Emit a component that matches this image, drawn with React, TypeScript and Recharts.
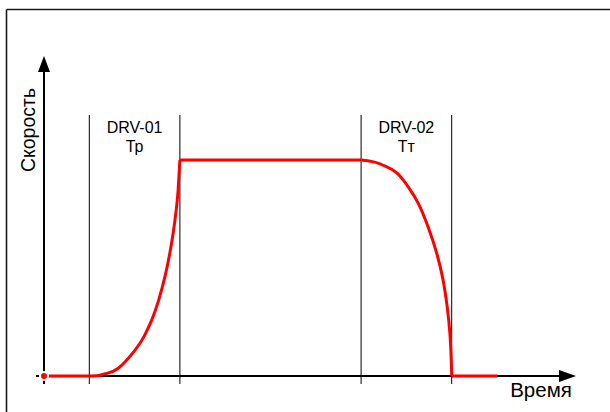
import React from 'react';
import {LineChart, Line, XAxis, YAxis, ReferenceLine, ReferenceDot} from 'recharts';

// speed profile: idle, ramp-up (Тр), cruise, braking (Тт), stop
const flatTime = [0, 1, 3, 7, 9, 10];
const flatSpeed = [0, 0, 1, 1, 0, 0];
const rampTime = [1, 1.2, 1.35, 1.64, 2.01, 2.2, 2.38, 2.53, 2.67, 2.77, 2.85, 2.92, 2.96, 3];
const rampSpeed = [0, 0.002, 0.01, 0.036, 0.12, 0.18, 0.26, 0.35, 0.46, 0.56, 0.66, 0.77, 0.86, 1];
const brakeTime = [7, 7.3, 7.55, 7.79, 8.04, 8.26, 8.48, 8.67, 8.81, 8.9, 8.96, 8.99, 9];
const brakeSpeed = [1, 0.99, 0.97, 0.94, 0.876, 0.8, 0.69, 0.568, 0.444, 0.321, 0.198, 0.074, 0];

const phaseLines = [1, 3, 7, 9];
const phaseNames = ['DRV-01', 'DRV-02'];
const phaseSubs = ['Тр', 'Тт'];
const phaseCenters = [2, 8];

const allTimes = Array.from(new Set([...flatTime, ...rampTime, ...brakeTime])).sort((a, b) => a - b);
const pick = (ts: number[], vs: number[], t: number) => {
    const i = ts.indexOf(t);
    return i < 0 ? null : vs[i];
};
const data = allTimes.map(t => ({
    t,
    flat: pick(flatTime, flatSpeed, t),
    ramp: pick(rampTime, rampSpeed, t),
    brake: pick(brakeTime, brakeSpeed, t),
}));

const W = 610;
const H = 412;
// pixel origin of the axes and units
const OX = 44;
const OY = 376;
const UX = 45.3;
const UY = 216;
const tx = (px: number) => (px - OX) / UX;
const vy = (py: number) => (OY - py) / UY;

const FONT = 'Liberation Sans, Arial, sans-serif';
const RED = '#ff0000';

const App = () => {
    const yBottom = vy(384);
    return (
        <div style={{position: 'absolute', left: 0, top: 0, width: W, height: H, background: '#fff'}}>
            <LineChart width={W} height={H} data={data} margin={{top: 0, right: 0, bottom: 0, left: 0}}>
                <XAxis dataKey="t" type="number" domain={[tx(0), tx(W)]} hide allowDataOverflow/>
                <YAxis type="number" domain={[vy(H), vy(0)]} hide width={0} allowDataOverflow/>

                {/* frame */}
                <ReferenceLine segment={[{x: tx(6.5), y: vy(9.5)}, {x: tx(W), y: vy(9.5)}]} stroke="#1a1a1a" strokeWidth={1.6}/>
                <ReferenceLine segment={[{x: tx(6.5), y: vy(9.5)}, {x: tx(6.5), y: vy(H)}]} stroke="#1a1a1a" strokeWidth={1.6}/>

                {phaseLines.map(x => (
                    <ReferenceLine key={x} segment={[{x, y: yBottom}, {x, y: vy(115)}]} stroke="#000" strokeWidth={1}/>
                ))}

                {/* axes */}
                <ReferenceLine segment={[{x: tx(36), y: 0}, {x: tx(562), y: 0}]} stroke="#000" strokeWidth={2}/>
                <ReferenceLine segment={[{x: 0, y: yBottom}, {x: 0, y: vy(70)}]} stroke="#000" strokeWidth={2}/>
                <ReferenceDot x={tx(576)} y={0} r={0} ifOverflow="visible"
                              shape={(p: any) => <path d={`M${p.cx},${p.cy} l-17,-6 l0,12 z`} fill="#000"/>}/>
                <ReferenceDot x={0} y={vy(56)} r={0} ifOverflow="visible"
                              shape={(p: any) => <path d={`M${p.cx},${p.cy} l-6,16 l12,0 z`} fill="#000"/>}/>

                {phaseCenters.map((c, i) => (
                    <ReferenceDot key={c} x={c} y={vy(133)} r={0} ifOverflow="visible"
                                  shape={(p: any) => (
                                      <text x={p.cx} y={p.cy} textAnchor="middle" fontFamily={FONT} fontSize={16} fill="#000">
                                          <tspan x={p.cx}>{phaseNames[i]}</tspan>
                                          <tspan x={p.cx} dy={19}>{phaseSubs[i]}</tspan>
                                      </text>
                                  )}/>
                ))}

                <ReferenceDot x={tx(35)} y={vy(130)} r={0} ifOverflow="visible"
                              shape={(p: any) => (
                                  <text x={p.cx} y={p.cy} textAnchor="middle" fontFamily={FONT} fontSize={19.5} fill="#000"
                                        transform={`rotate(-90 ${p.cx} ${p.cy})`}>Скорость</text>
                              )}/>
                <ReferenceDot x={tx(541)} y={vy(397)} r={0} ifOverflow="visible"
                              shape={(p: any) => (
                                  <text x={p.cx} y={p.cy} textAnchor="middle" fontFamily={FONT} fontSize={20.5} fill="#000">Время</text>
                              )}/>

                <Line dataKey="flat" type="linear" stroke={RED} strokeWidth={3} dot={false} isAnimationActive={false}/>
                <Line dataKey="ramp" type="natural" stroke={RED} strokeWidth={3} dot={false} isAnimationActive={false}/>
                <Line dataKey="brake" type="natural" stroke={RED} strokeWidth={3} dot={false} isAnimationActive={false}/>
            </LineChart>
        </div>
    );
};

export default App;
